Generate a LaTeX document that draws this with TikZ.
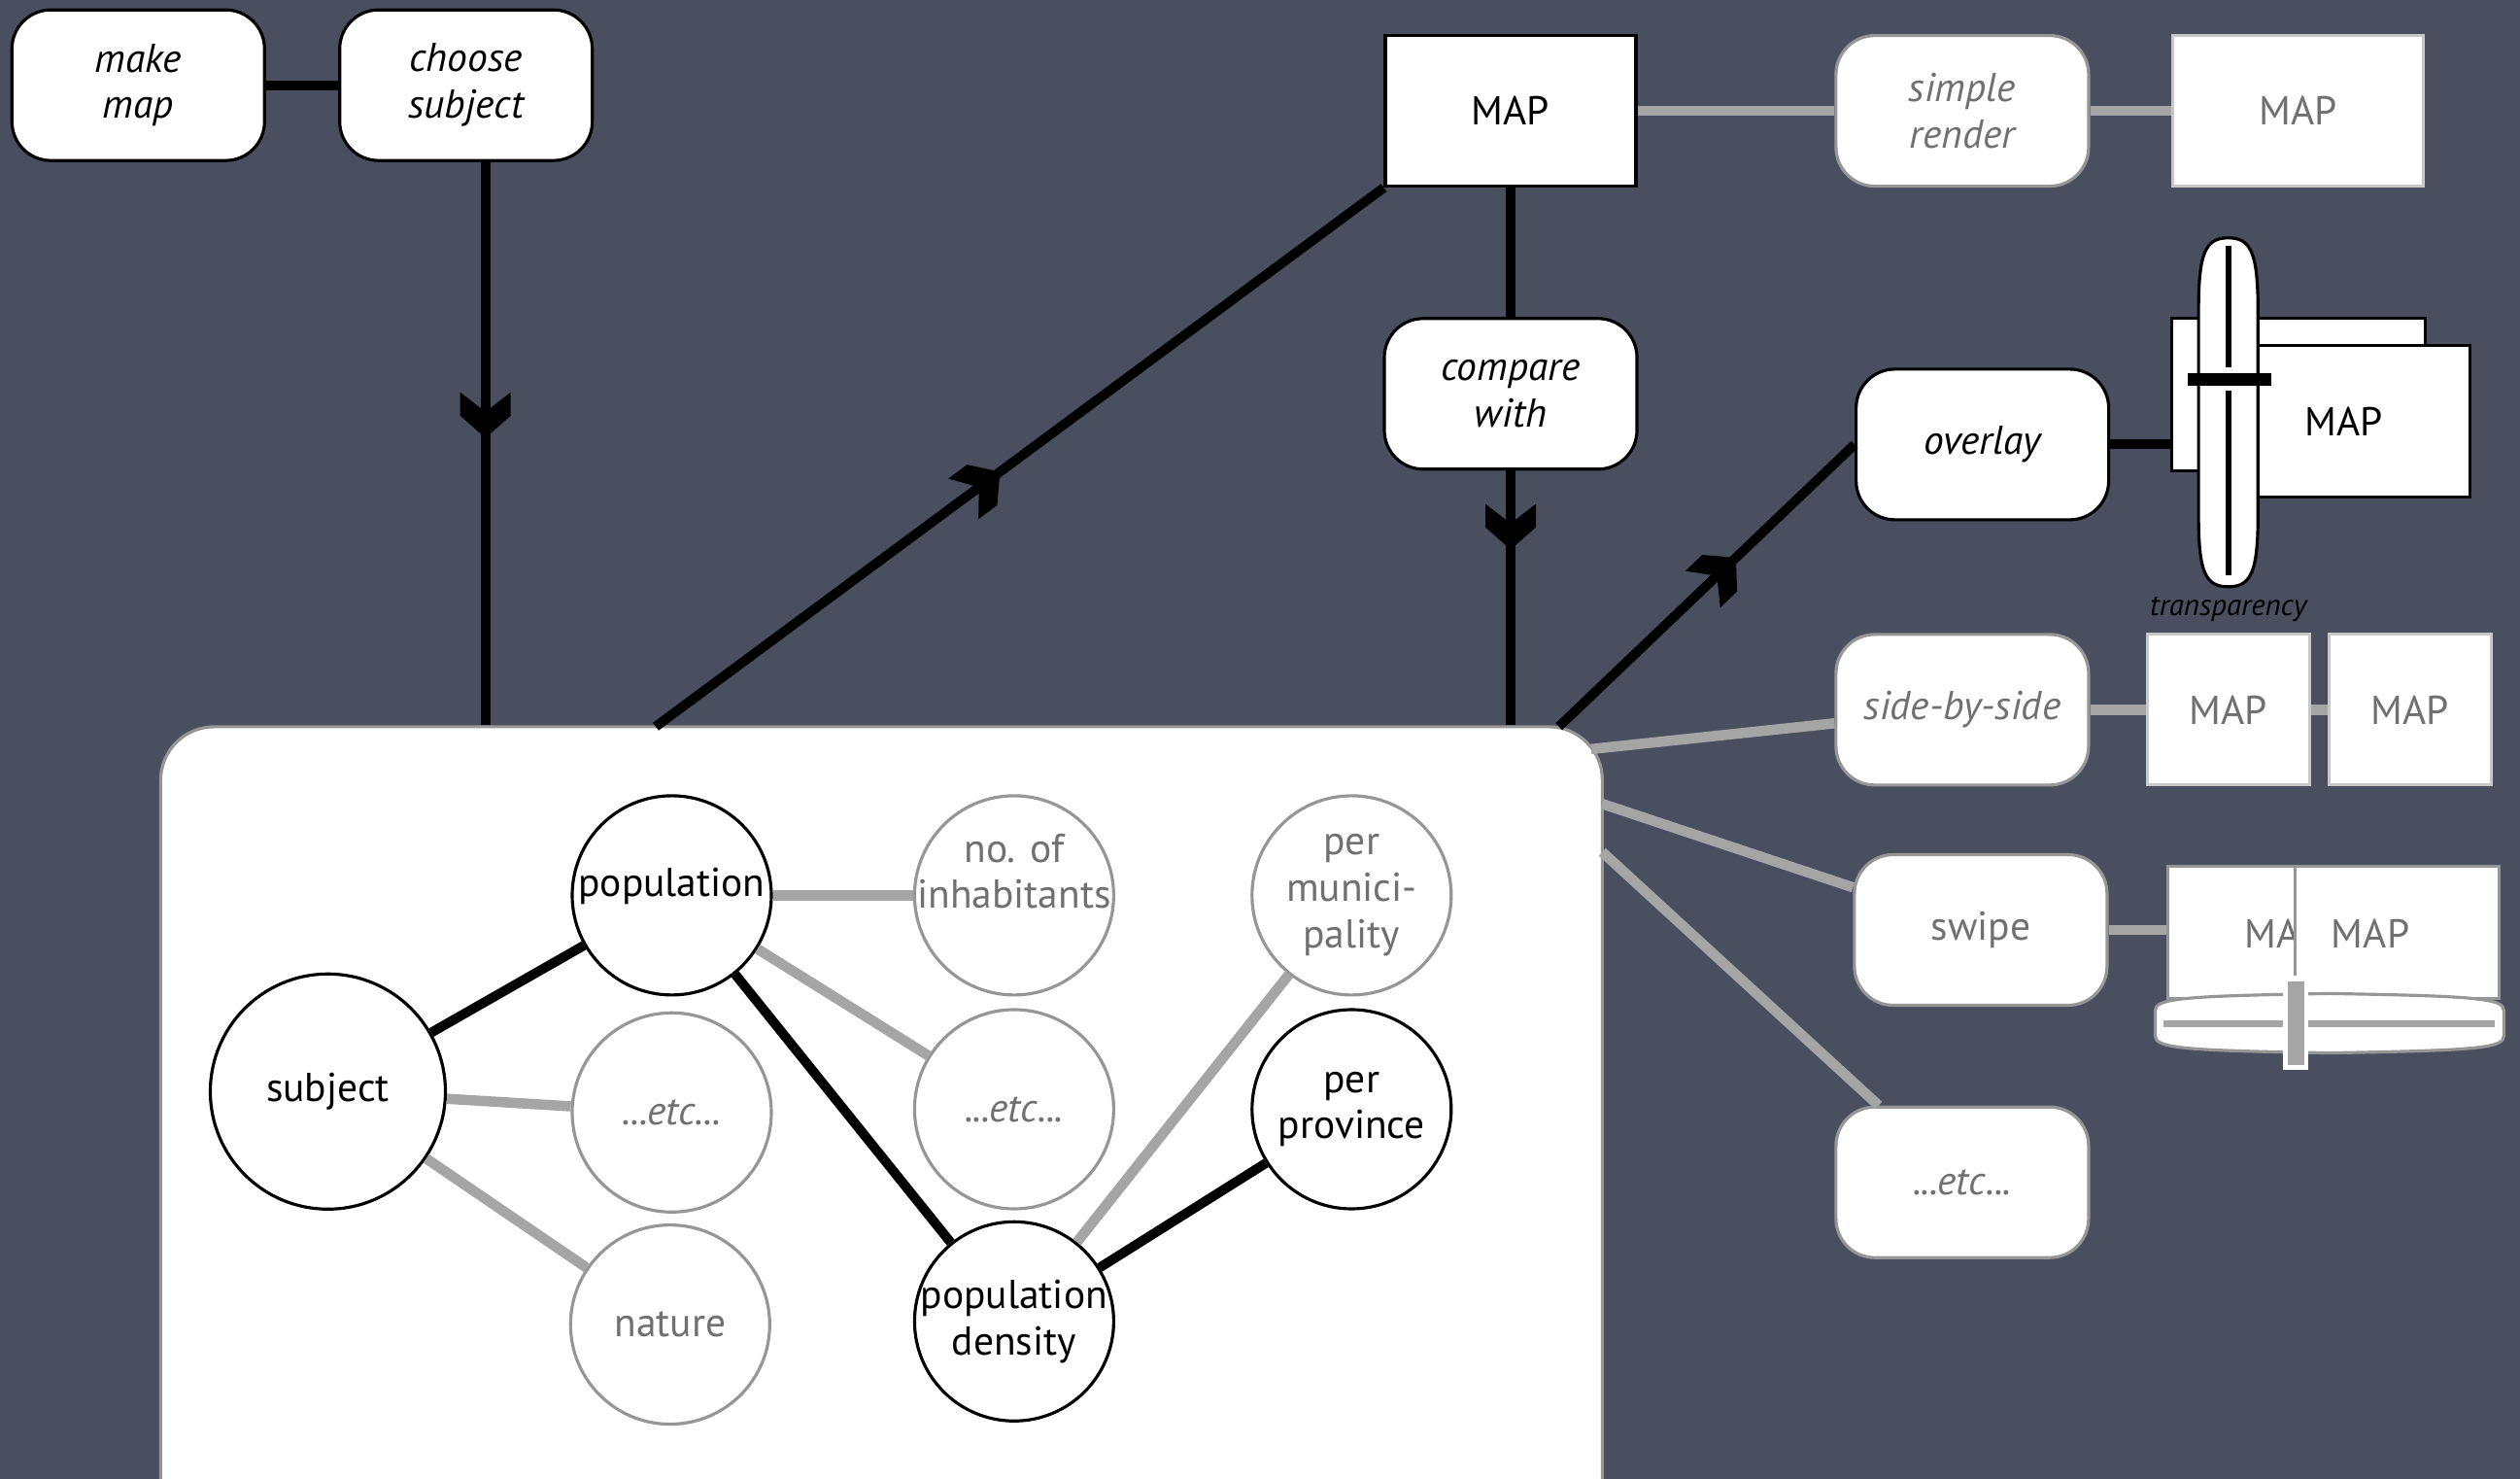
\documentclass[tikz,border=0pt]{standalone}
\usepackage{fontspec}
\setmainfont{PT Sans}
\usepackage{tikz}
\usetikzlibrary{arrows.meta,positioning,calc,decorations.markings}
\definecolor{board}{RGB}{73,79,95}
\definecolor{lgray}{RGB}{165,165,165}
\definecolor{tgray}{RGB}{112,112,112}
\definecolor{bgray}{RGB}{150,150,150}
\definecolor{pgray}{RGB}{200,200,200}
\newcommand{\nodefont}{\fontsize{11.8pt}{13.6pt}\selectfont}
\tikzstyle{link} = [line width=2.8pt, black]
\tikzstyle{glink} = [line width=3pt, lgray]
\tikzstyle{action} = [rectangle, rounded corners=0.4cm, minimum width=2.6cm, minimum height=1.55cm, align=center, draw=black, fill=white, line width=0.9pt, font=\nodefont\itshape]
\tikzstyle{gaction} = [action, draw=bgray, text=tgray]
\tikzstyle{mapbox} = [rectangle, minimum width=2.58cm, minimum height=1.55cm, draw=black, fill=white, line width=0.9pt, font=\nodefont]
\tikzstyle{gmapbox} = [mapbox, draw=pgray, text=tgray]
\tikzstyle{attr} = [circle, minimum size=2.05cm, inner sep=-0.5cm, draw=black, fill=white, line width=0.9pt, align=center, font=\nodefont]
\tikzstyle{gattr} = [attr, draw=bgray, text=tgray]
% chevron half way along a line
\tikzset{midarrow/.style={postaction={decorate}, decoration={markings, mark=at position #1 with {\fill (0,0) -- (-0.23,0.26) -- (-0.47,0.26) -- (-0.27,0) -- (-0.47,-0.26) -- (-0.23,-0.26) -- cycle;}}}}

\begin{document}
\begin{tikzpicture}
\useasboundingbox (0,0) rectangle (25.94,-15.22);
\fill[board] (0,0) rectangle (25.94,-15.22);

% first steps
\node[action] (make) at (1.423,-0.877) {make\\map};
\node[action] (choose) at (4.797,-0.877) {choose\\subject};
\draw[link] (make) -- (choose);

% attribute panel
\node[draw=bgray, fill=white, line width=0.9pt, rounded corners=0.55cm, minimum width=14.84cm, minimum height=8.4cm] (panel) at (9.074,-11.679) {};
\coordinate (cs) at ($(choose.south)+(0.2,0)$);
\draw[link, midarrow=0.49] (cs) -- (cs |- panel.north);

% the map
\node[mapbox] (map) at (15.55,-1.141) {MAP};
\coordinate (pout) at (6.75,-7.477);
\draw[link, midarrow=0.473] (pout) -- (map.south west);
\node[action] (compare) at (15.55,-4.053) {compare\\with};
\draw[link] (map) -- (compare);
\draw[link, midarrow=0.31] (compare.south) -- (compare.south |- panel.north);

% simple render
\node[gaction] (render) at (20.199,-1.141) {simple\\render};
\node[gmapbox] (map2) at (23.657,-1.141) {MAP};
\draw[glink] (map) -- (render);
\draw[glink] (render) -- (map2);

% overlay
\node[action] (overlay) at (20.406,-4.574) {overlay};
\coordinate (oout) at (16.047,-7.477);
\draw[link, midarrow=0.6] (oout) -- (overlay.west);
\node[mapbox, minimum width=2.61cm, minimum height=1.57cm] (ovback) at (23.657,-4.062) {};
\node[mapbox, minimum width=2.6cm, minimum height=1.555cm] (ovfront) at (24.128,-4.335) {MAP};
\draw[link] (overlay.east) -- (overlay.east -| ovback.west);
\draw[fill=white, line width=0.9pt] (22.631,-3.2) .. controls (22.631,-2.6) and (22.70,-2.448) .. (22.937,-2.448) .. controls (23.17,-2.448) and (23.243,-2.6) .. (23.243,-3.2) -- (23.243,-5.3) .. controls (23.243,-5.89) and (23.17,-6.038) .. (22.937,-6.038) .. controls (22.70,-6.038) and (22.631,-5.89) .. (22.631,-5.3) -- cycle;
\draw[line width=1.8pt] (22.937,-2.531) -- (22.937,-3.782) (22.937,-4.02) -- (22.937,-5.922);
\fill (22.515,-3.838) rectangle (23.375,-3.970);
\node[font=\fontsize{8.8pt}{10pt}\selectfont\itshape] (transp) at (22.937,-6.27) {transparency};

% side-by-side
\coordinate (g1) at (16.378,-7.709);
\node[gaction] (side) at (20.199,-7.304) {side-by-side};
\node[gmapbox, minimum width=1.67cm] (map3) at (22.937,-7.304) {MAP};
\node[gmapbox, minimum width=1.67cm] (map4) at (24.806,-7.304) {MAP};
\draw[glink] (g1) -- (side);
\draw[glink] (side) -- (map3);
\draw[glink] (map3) -- (map4);

% swipe
\coordinate (g2) at (16.493,-8.272);
\node[gaction, font=\nodefont\upshape] (swipe) at (20.389,-9.57) {swipe};
\draw[glink] (g2) -- (swipe);
\node[mapbox, draw=bgray, minimum width=3.41cm, minimum height=1.36cm] (swback) at (24.02,-9.595) {};
\draw[glink] (swipe.east) -- (swipe.east -| swback.west);
\begin{scope}
\clip (22.4,-8.95) rectangle (23.623,-10.2);
\node[font=\nodefont, text=tgray] (swl) at (23.508,-9.611) {MAP};
\end{scope}
\node[font=\nodefont, text=tgray] (swr) at (24.401,-9.611) {MAP};
\draw[bgray, line width=0.9pt] (23.623,-8.917) -- (23.623,-10.042);
\draw[draw=bgray, fill=white, line width=0.9pt] (22.184,-10.40) .. controls (22.184,-10.27) and (22.5,-10.25) .. (23.98,-10.224) .. controls (25.46,-10.25) and (25.775,-10.27) .. (25.775,-10.40) -- (25.775,-10.66) .. controls (25.775,-10.79) and (25.46,-10.81) .. (23.98,-10.836) .. controls (22.5,-10.81) and (22.184,-10.79) .. (22.184,-10.66) -- cycle;
\draw[lgray, line width=1.9pt] (22.267,-10.538) -- (25.675,-10.538);
\filldraw[fill=lgray, draw=white, line width=1.2pt] (23.524,-10.075) rectangle (23.739,-10.985);

% more
\coordinate (g3) at (16.493,-8.768);
\node[gaction] (etc3) at (20.199,-12.167) {...etc...};
\draw[glink] (g3) -- (etc3);

% attributes
\node[attr, minimum size=2.42cm] (subj) at (3.375,-11.233) {subject};
\node[attr, text depth=0.27cm] (popu) at (6.915,-9.214) {population};
\node[gattr, font=\nodefont\itshape] (etca) at (6.915,-11.448) {...etc...};
\node[gattr] (natu) at (6.898,-13.631) {nature};
\node[gattr, text depth=0.5cm] (inhab) at (10.439,-9.214) {no. of\\inhabitants};
\node[gattr, font=\nodefont\itshape] (etcb) at (10.439,-11.415) {...etc...};
\node[attr] (dens) at (10.439,-13.598) {population\\density};
\node[gattr] (munic) at (13.913,-9.214) {per\\munici-\\pality};
\node[attr] (prov) at (13.913,-11.415) {per\\province};

\draw[link] (subj) -- (popu);
\draw[glink] (subj) -- (etca);
\draw[glink] (subj) -- (natu);
\draw[glink] (popu) -- (inhab);
\draw[glink] (popu) -- (etcb);
\draw[link] (popu) -- (dens);
\draw[glink] (dens) -- (munic);
\draw[link] (dens) -- (prov);
\end{tikzpicture}
\end{document}
